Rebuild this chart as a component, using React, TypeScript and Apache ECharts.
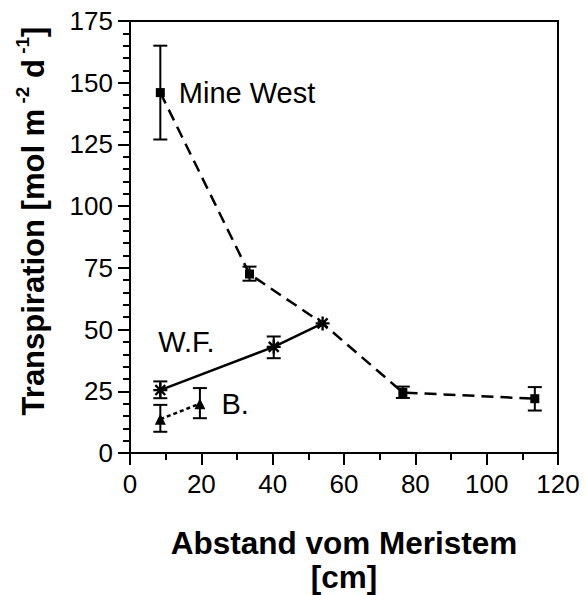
import React, { useEffect, useRef } from "react";
import * as echarts from "echarts";

const xTicks = [0, 20, 40, 60, 80, 100, 120];
const yTicks = [0, 25, 50, 75, 100, 125, 150, 175];

const mineX = [8.5, 33.5, 54, 76.5, 113.5];
const mineY = [146, 72.5, 52.5, 24.5, 22];
const mineLow = [127, 69.8, null, 22.3, 17.2];
const mineHigh = [165, 75.5, null, 26.9, 26.7];

const wfX = [8.5, 40.3, 54];
const wfY = [25.5, 43, 52.5];
const wfLow = [22.2, 38.4, null];
const wfHigh = [29, 47.2, null];

const bX = [8.5, 19.6];
const bY = [13.7, 20];
const bLow = [8.6, 14.1];
const bHigh = [19.5, 26.3];

const seriesNames = ["Mine West", "W.F.", "B."];
const xTitle = "Abstand vom Meristem";
const xUnit = "[cm]";

const FONT = "'Liberation Sans', Arial, sans-serif";

const ASTERISK =
  "path://M-6,-1H6V1H-6Z M-1,-6H1V6H-1Z M3.53,4.95L-4.95,-3.53L-3.53,-4.95L4.95,3.53Z M-3.53,4.95L-4.95,3.53L3.53,-4.95L4.95,-3.53Z";

function errData(xs: number[], lo: (number | null)[], hi: (number | null)[]) {
  const out: number[][] = [];
  xs.forEach((x, i) => {
    if (lo[i] != null && hi[i] != null) out.push([x, lo[i] as number, hi[i] as number]);
  });
  return out;
}

function errSeries(data: number[][]) {
  return {
    type: "custom",
    data,
    z: 5,
    silent: true,
    renderItem: (_p: any, api: any) => {
      const x = api.value(0);
      const lo = api.coord([x, api.value(1)]);
      const hi = api.coord([x, api.value(2)]);
      const hw = 7;
      const st = { stroke: "#000", lineWidth: 2 };
      return {
        type: "group",
        children: [
          { type: "line", shape: { x1: lo[0], y1: lo[1], x2: hi[0], y2: hi[1] }, style: st },
          { type: "line", shape: { x1: lo[0] - hw, y1: lo[1], x2: lo[0] + hw, y2: lo[1] }, style: st },
          { type: "line", shape: { x1: hi[0] - hw, y1: hi[1], x2: hi[0] + hw, y2: hi[1] }, style: st },
        ],
      };
    },
  };
}

export default function App() {
  const ref = useRef<HTMLDivElement>(null);
  useEffect(() => {
    if (!ref.current) return;
    const chart = echarts.init(ref.current, undefined, { renderer: "svg" });
    const labelStyle = { color: "#000", fontSize: 29, fontFamily: FONT };
    const mineData = mineX.map((x, i) => {
      const item: any = { value: [x, mineY[i]] };
      if (i === 0) {
        item.label = { show: true, position: "right", distance: 14, formatter: seriesNames[0], ...labelStyle };
      }
      if (i === 2) item.symbol = "none";
      return item;
    });
    const wfData = wfX.map((x, i) => {
      const item: any = { value: [x, wfY[i]] };
      if (i === 0) {
        item.label = { show: true, position: "top", offset: [26, -22], formatter: seriesNames[1], ...labelStyle };
      }
      return item;
    });
    const bData = bX.map((x, i) => {
      const item: any = { value: [x, bY[i]] };
      if (i === 1) {
        item.label = { show: true, position: "right", distance: 16, formatter: seriesNames[2], ...labelStyle };
      }
      return item;
    });
    const tickStyle = { color: "#000", width: 2 };
    chart.setOption({
      animation: false,
      grid: {
        left: 130,
        right: 29,
        top: 21,
        bottom: 142,
        show: true,
        borderColor: "#000",
        borderWidth: 2,
        backgroundColor: "transparent",
      },
      xAxis: [
        {
          type: "value",
          min: xTicks[0],
          max: xTicks[xTicks.length - 1],
          interval: 20,
          position: "bottom",
          axisLine: { show: true, lineStyle: { color: "#000", width: 2 } },
          axisTick: { show: true, inside: false, length: 12, lineStyle: tickStyle },
          splitLine: { show: false },
          axisLabel: { color: "#000", fontSize: 26, fontFamily: FONT, margin: 18 },
        },
        {
          type: "value",
          min: xTicks[0],
          max: xTicks[xTicks.length - 1],
          interval: 10,
          position: "bottom",
          axisLine: { show: false },
          axisTick: { show: true, inside: false, length: 7, lineStyle: tickStyle },
          splitLine: { show: false },
          axisLabel: { show: false },
        },
      ],
      yAxis: [
        {
          type: "value",
          min: yTicks[0],
          max: yTicks[yTicks.length - 1],
          interval: 25,
          position: "left",
          axisLine: { show: true, lineStyle: { color: "#000", width: 2 } },
          axisTick: { show: true, inside: false, length: 12, lineStyle: tickStyle },
          splitLine: { show: false },
          axisLabel: { color: "#000", fontSize: 26, fontFamily: FONT, margin: 17 },
        },
        {
          type: "value",
          min: yTicks[0],
          max: yTicks[yTicks.length - 1],
          interval: 5,
          position: "left",
          axisLine: { show: false },
          axisTick: { show: true, inside: false, length: 7, lineStyle: tickStyle },
          splitLine: { show: false },
          axisLabel: { show: false },
        },
      ],
      series: [
        {
          name: seriesNames[0],
          type: "line",
          data: mineData,
          symbol: "rect",
          symbolSize: 9,
          itemStyle: { color: "#000" },
          lineStyle: { color: "#000", width: 2.5, type: [12, 7] },
          z: 3,
        },
        {
          name: seriesNames[1],
          type: "line",
          data: wfData,
          symbol: ASTERISK,
          symbolSize: 14,
          itemStyle: { color: "#000" },
          lineStyle: { color: "#000", width: 2.5, type: "solid" },
          z: 4,
        },
        {
          name: seriesNames[2],
          type: "line",
          data: bData,
          symbol: "triangle",
          symbolSize: 11,
          itemStyle: { color: "#000" },
          lineStyle: { color: "#000", width: 2.5, type: [4, 3] },
          z: 4,
        },
        errSeries(errData(mineX, mineLow, mineHigh)),
        errSeries(errData(wfX, wfLow, wfHigh)),
        errSeries(errData(bX, bLow, bHigh)),
      ],
      graphic: [
        {
          type: "text",
          x: 31,
          y: 221,
          rotation: Math.PI / 2,
          style: {
            text: "{b|Transpiration [mol m}{s| -2}{b| d}{s| -1}{b|]}",
            align: "center",
            verticalAlign: "middle",
            fill: "#000",
            rich: {
              b: { fontSize: 31, fontWeight: "bold", fontFamily: FONT, fill: "#000", lineHeight: 36, verticalAlign: "bottom" },
              s: { fontSize: 19, fontWeight: "bold", fontFamily: FONT, fill: "#000", lineHeight: 36, verticalAlign: "top" },
            },
          },
        },
        {
          type: "text",
          x: 344,
          y: 543,
          style: {
            text: xTitle,
            align: "center",
            verticalAlign: "middle",
            fill: "#000",
            font: "bold 31.5px " + FONT,
          },
        },
        {
          type: "text",
          x: 344,
          y: 577,
          style: {
            text: xUnit,
            align: "center",
            verticalAlign: "middle",
            fill: "#000",
            font: "bold 31.5px " + FONT,
          },
        },
      ],
    });
    return () => chart.dispose();
  }, []);
  return <div ref={ref} style={{ width: 587, height: 595, position: "absolute", left: 0, top: 0 }} />;
}
